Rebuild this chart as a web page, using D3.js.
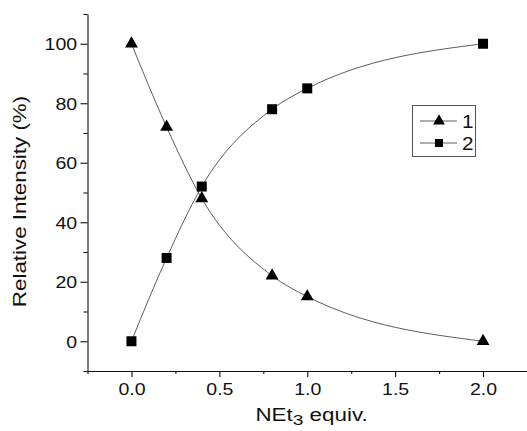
<!DOCTYPE html>
<html>
<head>
<meta charset="utf-8">
<script src="https://cdn.jsdelivr.net/npm/d3@7"></script>
<style>
  body { margin: 0; background: #fff; }
  svg { display: block; font-family: "Liberation Sans", Arial, sans-serif; }
</style>
</head>
<body>
<svg></svg>
<script>
let width = 527;
let height = 431;

// data
let equiv = [0, 0.2, 0.4, 0.8, 1.0, 2.0];
let series1 = [100, 72, 48, 22, 15, 0];   // triangles
let series2 = [0, 28, 52, 78, 85, 100];   // squares
let seriesNames = ['1', '2'];
let xTicks = [0, 0.5, 1.0, 1.5, 2.0];
let yTicks = [0, 20, 40, 60, 80, 100];

let plotLeft = 87.5, plotRight = 527, plotTop = 14, plotBottom = 371;

let svg = d3.select('svg')
            .attr('width', width)
            .attr('height', height);

let x = d3.scaleLinear().domain([-0.25, 2.25]).range([plotLeft, plotRight]);
let y = d3.scaleLinear().domain([-10, 110]).range([plotBottom, plotTop]);

// Axes
let xAxis = svg.append('g')
  .attr('transform', 'translate(0,' + plotBottom + ')')
  .call(d3.axisBottom(x).tickValues(xTicks).tickFormat(d3.format('.1f')).tickSize(6).tickSizeOuter(0));
svg.append('g')
  .attr('transform', 'translate(0,' + plotBottom + ')')
  .call(d3.axisBottom(x).tickValues([-0.25, 0.25, 0.75, 1.25, 1.75]).tickFormat('').tickSize(3).tickSizeOuter(0))
  .select('.domain').remove();

let yAxis = svg.append('g')
  .attr('transform', 'translate(' + plotLeft + ',0)')
  .call(d3.axisLeft(y).tickValues(yTicks).tickSize(7).tickSizeOuter(0));
svg.append('g')
  .attr('transform', 'translate(' + plotLeft + ',0)')
  .call(d3.axisLeft(y).tickValues([-10, 10, 30, 50, 70, 90, 110]).tickFormat('').tickSize(4).tickSizeOuter(0))
  .select('.domain').remove();

svg.selectAll('.domain, .tick line').attr('stroke', '#111').attr('stroke-width', 1.1);

// tick labels: slightly wide lettering, as in the figure
xAxis.selectAll('text')
  .attr('font-size', 17).attr('fill', '#111')
  .attr('y', 24).attr('dy', 0)
  .attr('transform', 'scale(1.15,1)');
yAxis.selectAll('text')
  .attr('font-size', 17).attr('fill', '#111')
  .attr('x', -9).attr('dy', '0.36em')
  .attr('transform', 'scale(1.15,1)');

// Axis titles
svg.append('text')
  .attr('transform', 'translate(26,201.5) rotate(-90) scale(1.28,1)')
  .attr('text-anchor', 'middle')
  .attr('font-size', 17.5)
  .attr('fill', '#111')
  .text('Relative Intensity (%)');

let xt = svg.append('text')
  .attr('transform', 'translate(311.5,421) scale(1.28,1)')
  .attr('text-anchor', 'middle')
  .attr('font-size', 17.5)
  .attr('fill', '#111');
xt.append('tspan').text('NEt');
xt.append('tspan').attr('font-size', 15).attr('dy', 4).text('3');
xt.append('tspan').attr('dy', -4).text(' equiv.');

// Curves
let line = d3.line()
  .x(function(d) { return x(d[0]); })
  .y(function(d) { return y(d[1]); })
  .curve(d3.curveMonotoneX);

let allSeries = [series1, series2];
let shapes = [d3.symbolTriangle, d3.symbolSquare];
let sizes = [72, 100];

allSeries.forEach(function(vals, i) {
  let pts = equiv.map(function(e, j) { return [e, vals[j]]; });
  svg.append('path')
    .attr('d', line(pts))
    .attr('fill', 'none')
    .attr('stroke', '#333')
    .attr('stroke-width', 0.8);
  svg.append('g')
    .selectAll('path')
    .data(pts)
    .enter()
    .append('path')
    .attr('transform', function(d) { return 'translate(' + x(d[0]) + ',' + y(d[1]) + ')'; })
    .attr('d', d3.symbol().type(shapes[i]).size(sizes[i]))
    .attr('fill', '#000');
});

// Legend
let legend = svg.append('g');
legend.append('rect')
  .attr('x', 412.5).attr('y', 105.5)
  .attr('width', 63).attr('height', 51)
  .attr('fill', '#fff')
  .attr('stroke', '#555')
  .attr('stroke-width', 1);

seriesNames.forEach(function(name, i) {
  let ly = 121 + i * 22;
  legend.append('line')
    .attr('x1', 420).attr('x2', 457)
    .attr('y1', ly).attr('y2', ly)
    .attr('stroke', '#333').attr('stroke-width', 0.8);
  legend.append('path')
    .attr('transform', 'translate(439,' + ly + ')')
    .attr('d', d3.symbol().type(shapes[i]).size(i === 0 ? 60 : 64))
    .attr('fill', '#000');
  legend.append('text')
    .attr('transform', 'translate(462,' + (ly + 6.5) + ') scale(1.15,1)')
    .attr('font-size', 18)
    .attr('fill', '#111')
    .text(name);
});
</script>
</body>
</html>
